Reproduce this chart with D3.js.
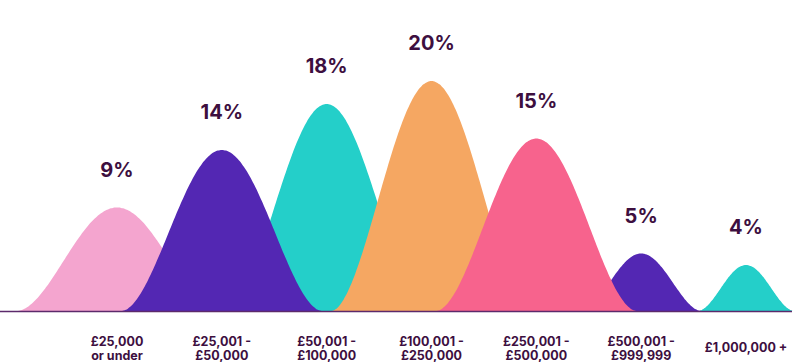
<!DOCTYPE html>
<html>
<head>
<meta charset="utf-8">
<script src="https://cdn.jsdelivr.net/npm/d3@7"></script>
<style>
  html, body { margin: 0; padding: 0; background: #fff; }
  svg { display: block; }
  text { font-family: Inter, "Open Sans", sans-serif; font-weight: 700; fill: #3d0f3f; }
</style>
</head>
<body>
<svg id="chart" width="800" height="362"></svg>
<script>
// ---- data ----
const categories = [
  "£25,000\nor under",
  "£25,001 -\n£50,000",
  "£50,001 -\n£100,000",
  "£100,001 -\n£250,000",
  "£250,001 -\n£500,000",
  "£500,001 -\n£999,999",
  "£1,000,000 +"
];
const values = [9, 14, 18, 20, 15, 5, 4];
const valueLabels = ["9%", "14%", "18%", "20%", "15%", "5%", "4%"];
const colors = ["#f4a5cf", "#5327b3", "#24cfc9", "#f5a762", "#f7638d", "#5327b3", "#24cfc9"];

// ---- layout ----
const W = 800, H = 362;
const baseY = 311;
const svg = d3.select("#chart");

const x = d3.scalePoint().domain(categories).range([117, 746]);
const y = d3.scaleLinear().domain([0, 20]).range([baseY, baseY - 230]);

const data = categories.map((c, i) => ({ cat: c, value: values[i], label: valueLabels[i], color: colors[i], i }));

// bell shape generator
const shapeLine = d3.line().x(p => p[0]).y(p => p[1]).curve(d3.curveBasis);
function bell(d) {
  const cx = x(d.cat);
  const h = baseY - y(d.value);
  const w = Math.min(100, d.value * 12);
  const pts = [];
  for (let k = -50; k <= 50; k++) {
    const t = k / 50;
    const f = Math.pow(0.5 + 0.5 * Math.cos(Math.PI * t), 0.9);
    pts.push([cx + t * w, baseY - h * f]);
  }
  return shapeLine(pts) + "Z";
}

// stacking order of overlapping shapes
const drawOrder = [0, 2, 1, 3, 6, 5, 4];
svg.append("g")
  .selectAll("path")
  .data(drawOrder.map(i => data[i]))
  .join("path")
  .attr("d", bell)
  .attr("fill", d => d.color);

// baseline
svg.append("line")
  .attr("x1", 0).attr("x2", 792)
  .attr("y1", baseY + 0.5).attr("y2", baseY + 0.5)
  .attr("stroke", "#5c2a6b")
  .attr("stroke-width", 1.5);

// value labels
svg.append("g")
  .selectAll("text")
  .data(data)
  .join("text")
  .attr("x", d => x(d.cat))
  .attr("y", d => y(d.value) - 31)
  .attr("text-anchor", "middle")
  .attr("font-size", 20)
  .text(d => d.label);

// category labels
const cat = svg.append("g")
  .selectAll("text")
  .data(data)
  .join("text")
  .attr("text-anchor", "middle")
  .attr("font-size", 12.5)
  .attr("x", d => x(d.cat))
  .attr("y", d => d.cat.includes("\n") ? 346 : 352);
cat.each(function(d) {
  const lines = d.cat.split("\n");
  d3.select(this).selectAll("tspan")
    .data(lines)
    .join("tspan")
    .attr("x", x(d.cat))
    .attr("dy", (l, j) => j === 0 ? 0 : 13.5)
    .text(l => l);
});
</script>
</body>
</html>
